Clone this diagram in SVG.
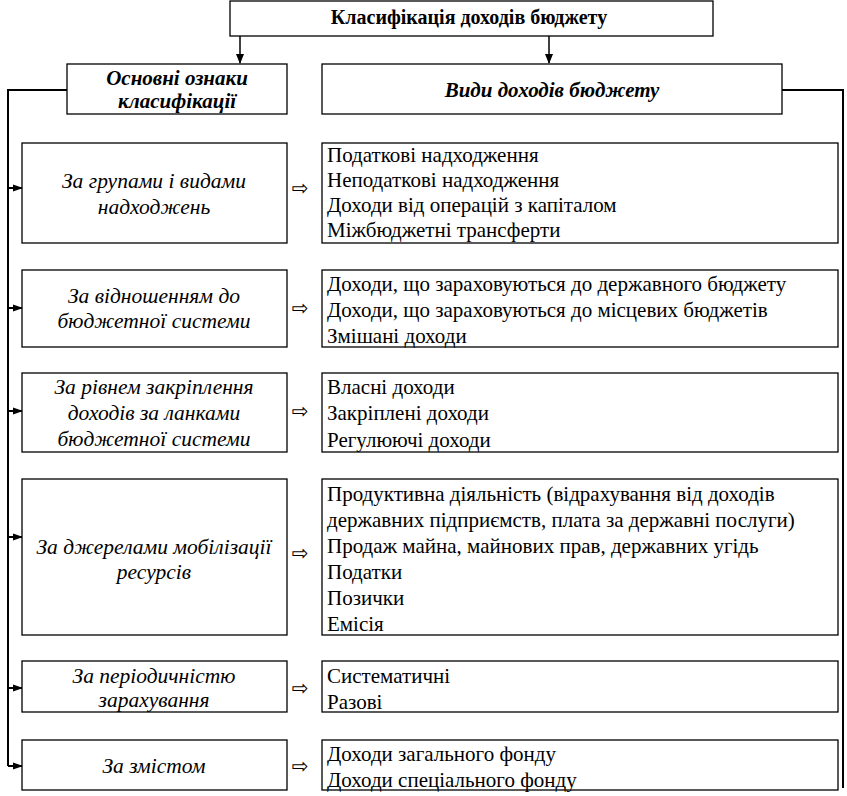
<svg xmlns="http://www.w3.org/2000/svg" width="847" height="796" viewBox="0 0 847 796">
<style>
.box{fill:#fff;stroke:#000;stroke-width:1.3}
.ln{fill:none;stroke:#000;stroke-width:2}
.t{font-family:"Liberation Serif","Times New Roman",serif;font-size:21px;fill:#000}
.i{font-family:"Liberation Serif","Times New Roman",serif;font-size:21.5px;font-style:italic;fill:#000;text-anchor:middle}
.h{font-family:"Liberation Serif","Times New Roman",serif;font-size:21px;font-style:italic;font-weight:bold;fill:#000;text-anchor:middle}
.ar{font-family:"DejaVu Sans",sans-serif;font-size:20px;fill:#000;text-anchor:middle}
</style>
<defs>
<marker id="a" markerWidth="10" markerHeight="8" refX="9" refY="4" orient="auto" markerUnits="userSpaceOnUse">
<path d="M0,0.5 L10,4 L0,7.5 Z" fill="#000"/>
</marker>
<marker id="d" markerWidth="10" markerHeight="10" refX="9" refY="5" orient="auto" markerUnits="userSpaceOnUse">
<path d="M0,1 L10,5 L0,9 Z" fill="#000"/>
</marker>
</defs>
<g id="connectors">
<line class="ln" x1="240" y1="36" x2="240" y2="63" marker-end="url(#d)" style="stroke-width:1.5"/>
<line class="ln" x1="549" y1="36" x2="549" y2="63" marker-end="url(#d)" style="stroke-width:1.5"/>
<polyline class="ln" points="67,90 8,90 8,766"/>
<polyline class="ln" points="782,90 843,90 843,788"/>
<line class="ln" x1="8" y1="188" x2="22" y2="188" marker-end="url(#a)"/>
<line class="ln" x1="8" y1="308" x2="22" y2="308" marker-end="url(#a)"/>
<line class="ln" x1="8" y1="411" x2="22" y2="411" marker-end="url(#a)"/>
<line class="ln" x1="8" y1="537" x2="22" y2="537" marker-end="url(#a)"/>
<line class="ln" x1="8" y1="688" x2="22" y2="688" marker-end="url(#a)"/>
<line class="ln" x1="8" y1="766" x2="22" y2="766" marker-end="url(#a)"/>
<text class="ar" x="300" y="195">⇨</text>
<text class="ar" x="300" y="315">⇨</text>
<text class="ar" x="300" y="418">⇨</text>
<text class="ar" x="300" y="560">⇨</text>
<text class="ar" x="300" y="695">⇨</text>
<text class="ar" x="300" y="773">⇨</text>
</g>
<g id="title">
<rect class="box" x="230" y="1" width="483" height="35"/>
<text class="t" x="469" y="24" text-anchor="middle" style="font-size:20px;font-weight:bold">Класифікація доходів бюджету</text>
</g>
<g id="features">
<rect class="box" x="67" y="64" width="220" height="50"/>
<text class="h" x="177" y="85">Основні ознаки</text>
<text class="h" x="177" y="108">класифікації</text>
</g>
<g id="types">
<rect class="box" x="322" y="64" width="460" height="50"/>
<text class="h" x="552" y="97">Види доходів бюджету</text>
</g>
<g id="f1">
<rect class="box" x="22" y="143" width="265" height="100"/>
<text class="i" x="154" y="188">За групами і видами</text>
<text class="i" x="154" y="214">надходжень</text>
</g>
<g id="v1">
<rect class="box" x="322" y="143" width="516" height="100"/>
<text class="t" x="327" y="162">Податкові надходження</text>
<text class="t" x="327" y="187">Неподаткові надходження</text>
<text class="t" x="327" y="212">Доходи від операцій з капіталом</text>
<text class="t" x="327" y="237">Міжбюджетні трансферти</text>
</g>
<g id="f2">
<rect class="box" x="22" y="270" width="265" height="77"/>
<text class="i" x="154" y="303">За відношенням до</text>
<text class="i" x="154" y="328">бюджетної системи</text>
</g>
<g id="v2">
<rect class="box" x="322" y="270" width="516" height="77"/>
<text class="t" x="327" y="291">Доходи, що зараховуються до державного бюджету</text>
<text class="t" x="327" y="317">Доходи, що зараховуються до місцевих бюджетів</text>
<text class="t" x="327" y="343">Змішані доходи</text>
</g>
<g id="f3">
<rect class="box" x="22" y="373" width="265" height="79"/>
<text class="i" x="154" y="394">За рівнем закріплення</text>
<text class="i" x="154" y="420">доходів за ланками</text>
<text class="i" x="154" y="446">бюджетної системи</text>
</g>
<g id="v3">
<rect class="box" x="322" y="373" width="516" height="79"/>
<text class="t" x="327" y="394">Власні доходи</text>
<text class="t" x="327" y="420">Закріплені доходи</text>
<text class="t" x="327" y="447">Регулюючі доходи</text>
</g>
<g id="f4">
<rect class="box" x="22" y="479" width="265" height="156"/>
<text class="i" x="154" y="554">За джерелами мобілізації</text>
<text class="i" x="154" y="579">ресурсів</text>
</g>
<g id="v4">
<rect class="box" x="322" y="479" width="516" height="156"/>
<text class="t" x="327" y="501">Продуктивна діяльність (відрахування від доходів</text>
<text class="t" x="327" y="527">державних підприємств, плата за державні послуги)</text>
<text class="t" x="327" y="553">Продаж майна, майнових прав, державних угідь</text>
<text class="t" x="327" y="579">Податки</text>
<text class="t" x="327" y="605">Позички</text>
<text class="t" x="327" y="631">Емісія</text>
</g>
<g id="f5">
<rect class="box" x="22" y="661" width="265" height="51"/>
<text class="i" x="154" y="683">За періодичністю</text>
<text class="i" x="154" y="707">зарахування</text>
</g>
<g id="v5">
<rect class="box" x="322" y="661" width="516" height="51"/>
<text class="t" x="327" y="683">Систематичні</text>
<text class="t" x="327" y="709">Разові</text>
</g>
<g id="f6">
<rect class="box" x="22" y="740" width="265" height="50"/>
<text class="i" x="154" y="773">За змістом</text>
</g>
<g id="v6">
<rect class="box" x="322" y="740" width="516" height="50"/>
<text class="t" x="327" y="761">Доходи загального фонду</text>
<text class="t" x="327" y="787">Доходи спеціального фонду</text>
</g>
</svg>
